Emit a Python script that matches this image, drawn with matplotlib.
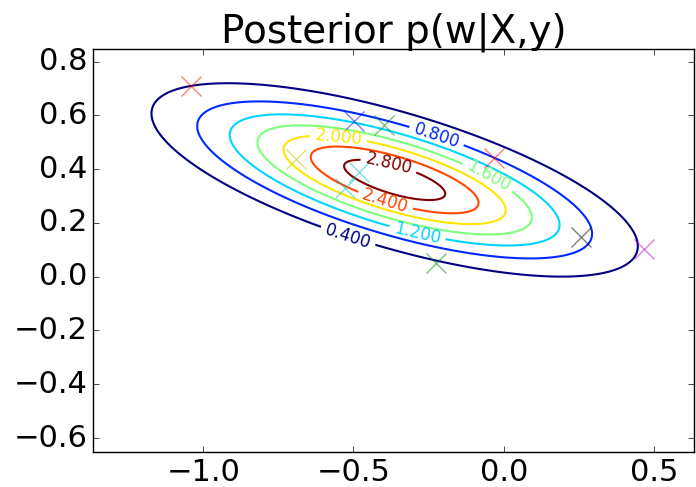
import matplotlib
matplotlib.use("Agg")
import matplotlib.pyplot as plt
import numpy as np

plt.style.use("classic")

# posterior over w = (w0, w1)
post_mean = [-0.363, 0.36]
post_cov = [[0.161, -0.0491],
            [-0.0491, 0.0318]]
levels = [0.4, 0.8, 1.2, 1.6, 2.0, 2.4, 2.8]

# samples drawn from the posterior (x markers)
sample_w0 = [-1.04, -0.497, -0.40, -0.69, -0.483, -0.527, -0.033, 0.257, -0.227, 0.467]
sample_w1 = [0.71, 0.579, 0.564, 0.438, 0.39, 0.33, 0.441, 0.148, 0.051, 0.103]
sample_colors = ["r", "b", "g", "y", "c", "c", "r", "k", "g", "m"]

# where the contour labels sit
label_pos = [(-0.22, 0.535), (-0.55, 0.52), (-0.383, 0.416), (-0.393, 0.286),
             (-0.05, 0.378), (-0.287, 0.163), (-0.52, 0.144)]

xlim = (-1.367, 0.633)
ylim = (-0.652, 0.847)

xs = np.linspace(xlim[0], xlim[1], 500)
ys = np.linspace(ylim[0], ylim[1], 500)
X, Y = np.meshgrid(xs, ys)
cov = np.array(post_cov)
inv = np.linalg.inv(cov)
dx = X - post_mean[0]
dy = Y - post_mean[1]
d2 = inv[0, 0] * dx**2 + 2 * inv[0, 1] * dx * dy + inv[1, 1] * dy**2
Z = np.exp(-0.5 * d2) / (2 * np.pi * np.sqrt(np.linalg.det(cov)))

fig = plt.figure(figsize=(6.96, 4.87), dpi=100, facecolor="white")
ax = fig.add_axes([0.1336, 0.0719, 0.8634, 0.8275])

cs = ax.contour(X, Y, Z, levels=levels, cmap="jet", linewidths=1.5)
ax.clabel(cs, fmt="%1.3f", fontsize=12, manual=label_pos, inline=True)

for w0, w1, c in zip(sample_w0, sample_w1, sample_colors):
    ax.plot(w0, w1, "x", color=c, markersize=15, mew=1, alpha=0.5)

ax.set_xlim(xlim)
ax.set_ylim(ylim)
ax.set_xticks([-1.0, -0.5, 0.0, 0.5])
ax.set_yticks([-0.6, -0.4, -0.2, 0.0, 0.2, 0.4, 0.6, 0.8])
ax.tick_params(labelsize=22)
ax.set_title("Posterior p(w|X,y)", fontsize=28)

plt.savefig("out.png", dpi=100, facecolor="white")
